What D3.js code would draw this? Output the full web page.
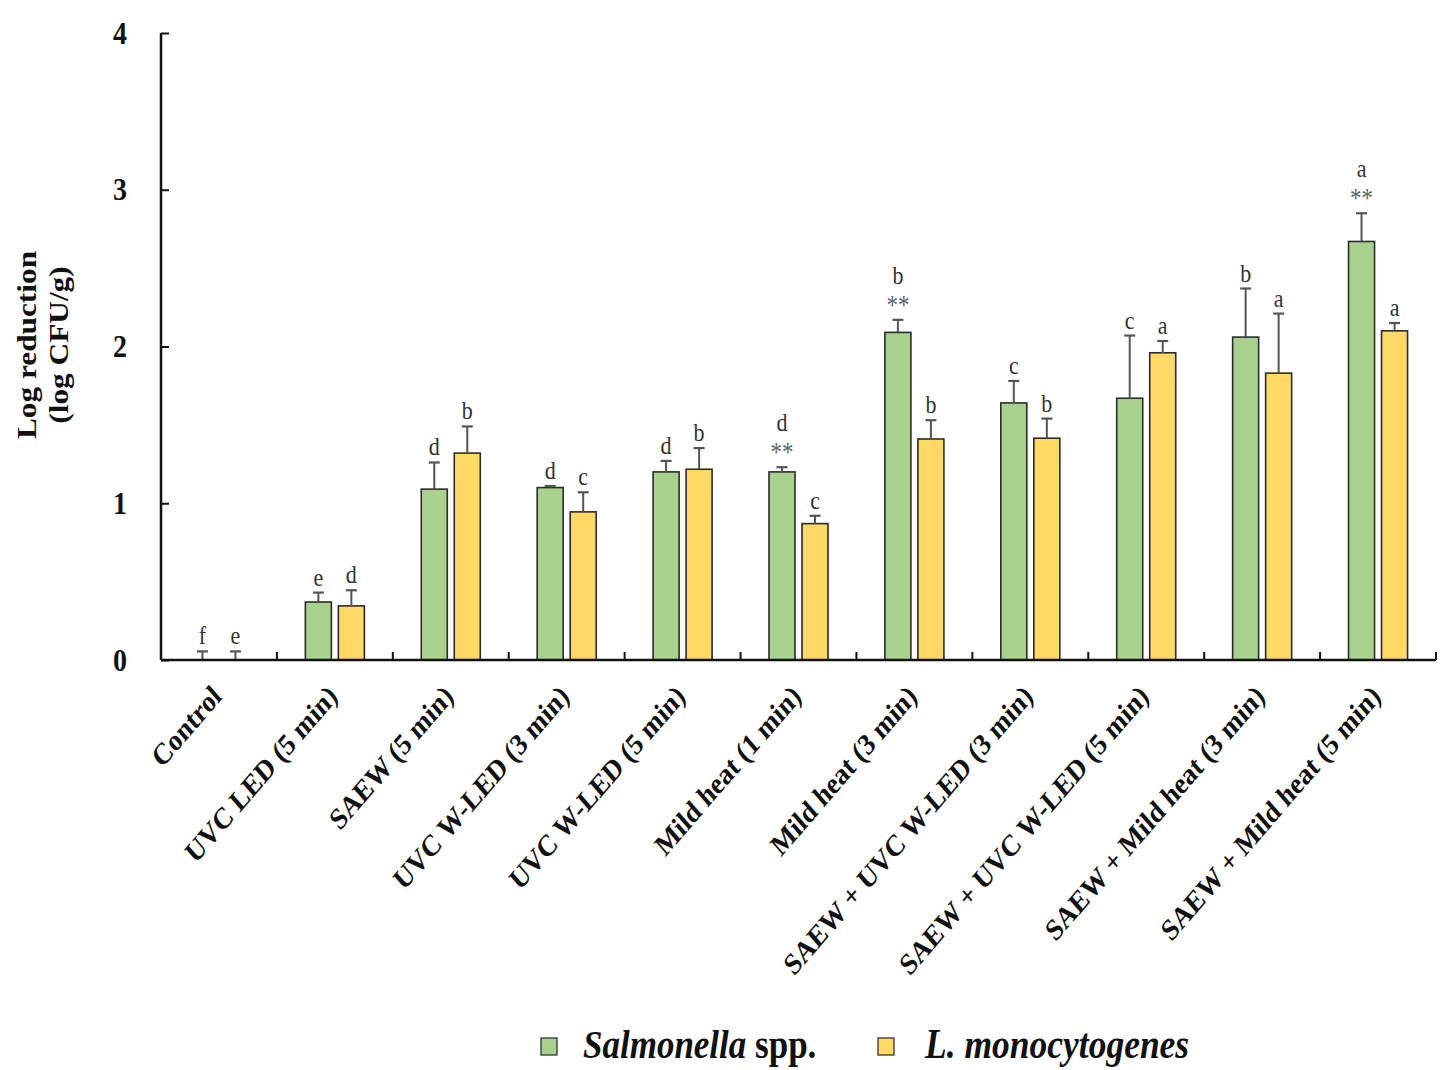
<!DOCTYPE html>
<html><head><meta charset="utf-8">
<script src="https://cdn.jsdelivr.net/npm/d3@7"></script>
<style>
body{margin:0;background:#fff;}
svg{display:block;}
text{font-family:"Liberation Serif","Times New Roman",serif;}
</style></head>
<body>
<svg id="chart" width="1443" height="1070"></svg>
<script>
const categories = ["Control","UVC LED (5 min)","SAEW (5 min)","UVC W-LED (3 min)","UVC W-LED (5 min)","Mild heat (1 min)","Mild heat (3 min)","SAEW + UVC W-LED (3 min)","SAEW + UVC W-LED (5 min)","SAEW + Mild heat (3 min)","SAEW + Mild heat (5 min)"];
const seriesNames = ["Salmonella spp.","L. monocytogenes"];
const salmonella    = [0, 0.37, 1.09, 1.10, 1.20, 1.20, 2.09, 1.64, 1.67, 2.06, 2.67];
const salmonellaErr = [0.055, 0.06, 0.17, 0.01, 0.07, 0.03, 0.08, 0.14, 0.40, 0.31, 0.18];
const listeria      = [0, 0.345, 1.32, 0.945, 1.217, 0.87, 1.41, 1.415, 1.96, 1.83, 2.10];
const listeriaErr   = [0.055, 0.10, 0.17, 0.125, 0.135, 0.05, 0.12, 0.125, 0.075, 0.38, 0.05];
const salLetters = ["f","e","d","d","d","d","b","c","c","b","a"];
const lisLetters = ["e","d","b","c","b","c","b","b","a","a","a"];
const salStars   = [false,false,false,false,false,true,true,false,false,false,true];
const yTicks = [0,1,2,3,4];

(function(){
const svg = d3.select("#chart");
const mLeft = 161, mRight = 1436, mTop = 33, mBottom = 660;
const colors = ["#a9d18e","#ffd966"];
const SY = 1.16; // vertical stretch of glyphs

const x0 = d3.scaleBand().domain(categories).range([mLeft, mRight]).padding(0);
const x1 = d3.scaleBand().domain([0,1]).range([0, x0.bandwidth()]).paddingInner(0.212).paddingOuter(0.862);
const y = d3.scaleLinear().domain([0,4]).range([mBottom, mTop]);

const data = categories.map((c,i)=>({c, vals:[
  {s:0, v:salmonella[i], e:salmonellaErr[i], l:salLetters[i], st:salStars[i]},
  {s:1, v:listeria[i], e:listeriaErr[i], l:lisLetters[i], st:false}
]}));

const g = svg.append("g");
const groups = g.selectAll("g.grp").data(data).join("g").attr("class","grp").attr("transform", d=>`translate(${x0(d.c)},0)`);
groups.selectAll("rect").data(d=>d.vals.filter(v=>v.v>0)).join("rect")
  .attr("x", d=>x1(d.s)).attr("width", x1.bandwidth())
  .attr("y", d=>y(d.v)).attr("height", d=>y(0)-y(d.v))
  .attr("fill", d=>colors[d.s]).attr("stroke","#2b2b2b").attr("stroke-width",1.6);

const cx = d=>x1(d.s)+x1.bandwidth()/2;
const eb = groups.selectAll("g.err").data(d=>d.vals).join("g").attr("class","err");
eb.append("line")
  .attr("x1", cx).attr("x2", cx)
  .attr("y1", d=>y(d.v)).attr("y2", d=>y(d.v+d.e))
  .attr("stroke","#555").attr("stroke-width",2);
eb.append("line")
  .attr("x1", d=>cx(d)-5.5).attr("x2", d=>cx(d)+5.5)
  .attr("y1", d=>y(d.v+d.e)).attr("y2", d=>y(d.v+d.e))
  .attr("stroke","#555").attr("stroke-width",2.2);
eb.filter(d=>d.st).append("text")
  .attr("transform", d=>`translate(${cx(d)},${y(d.v+d.e)-6}) scale(1,${SY})`)
  .attr("text-anchor","middle").attr("font-size",23).attr("fill","#5a5f66").text("**");
eb.append("text")
  .attr("transform", d=>`translate(${cx(d)},${y(d.v+d.e)-(d.st?36:7)}) scale(1,${SY})`)
  .attr("text-anchor","middle").attr("font-size",22).attr("fill","#333").text(d=>d.l);

const yAxis = d3.axisLeft(y).tickValues(yTicks).tickSize(-8).tickPadding(34).tickFormat(d3.format("d"));
const ya = svg.append("g").attr("transform",`translate(${mLeft},0)`).call(yAxis);
ya.select(".domain").attr("stroke","#111").attr("stroke-width",2.5).attr("d",`M0,${mTop}V${mBottom}`);
ya.selectAll(".tick line").attr("stroke","#111").attr("stroke-width",2);
ya.selectAll(".tick text").attr("font-size",28).attr("font-weight","bold").attr("fill","#111")
  .attr("font-family","Liberation Serif").attr("dy",null).attr("y",null)
  .attr("transform",`translate(0,10) scale(1,${SY})`);

svg.append("line").attr("x1",mLeft).attr("x2",mRight).attr("y1",mBottom).attr("y2",mBottom)
  .attr("stroke","#111").attr("stroke-width",2.5);
svg.append("g").selectAll("line").data(categories).join("line")
  .attr("x1", d=>x0(d)+x0.bandwidth()).attr("x2", d=>x0(d)+x0.bandwidth())
  .attr("y1", mBottom).attr("y2", mBottom-8).attr("stroke","#111").attr("stroke-width",2);

svg.append("g").selectAll("text").data(categories).join("text")
  .attr("transform", d=>`translate(${x0(d)+x0.bandwidth()/2+4},${mBottom+38}) scale(1,${SY}) rotate(-45)`)
  .attr("text-anchor","end").attr("font-size",26).attr("font-weight","bold").attr("fill","#111")
  .text(d=>d);

const yt = svg.append("text").attr("transform",`translate(0,345) scale(1,${SY}) rotate(-90)`)
  .attr("text-anchor","middle").attr("font-size",27).attr("font-weight","bold").attr("fill","#111");
yt.append("tspan").attr("x",0).attr("y",36).text("Log reduction");
yt.append("tspan").attr("x",0).attr("y",68).text("(log CFU/g)");

const leg = svg.append("g");
const legX = [541, 878];
leg.selectAll("rect").data(seriesNames).join("rect")
  .attr("x",(d,i)=>legX[i]).attr("y",1038).attr("width",16).attr("height",17)
  .attr("fill",(d,i)=>colors[i]).attr("stroke","#333").attr("stroke-width",1.3);
const t1 = leg.append("text").attr("transform",`translate(583,1058) scale(1,${SY})`)
  .attr("font-size",35).attr("font-weight","bold").attr("fill","#111");
t1.append("tspan").attr("font-style","italic").text("Salmonella");
t1.append("tspan").text(" spp.");
leg.append("text").attr("transform",`translate(925,1058) scale(1,${SY})`).attr("font-size",35.5).attr("font-weight","bold")
  .attr("font-style","italic").attr("fill","#111").text("L. monocytogenes");
})();
</script>
</body></html>
